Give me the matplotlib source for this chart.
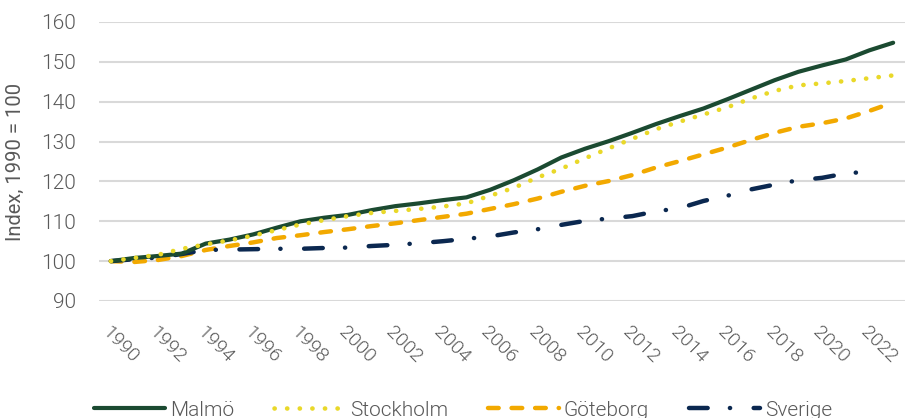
import numpy as np
import matplotlib
matplotlib.use("Agg")
import matplotlib.pyplot as plt

years = list(range(1990, 2024))

malmo = [100.0, 100.8, 101.3, 101.9, 104.4, 105.4, 106.7, 108.4, 110.0, 110.9,
         111.6, 112.8, 113.8, 114.5, 115.3, 116.0, 117.9, 120.3, 123.0, 126.0,
         128.2, 130.1, 132.2, 134.4, 136.4, 138.3, 140.6, 143.0, 145.4, 147.5,
         149.1, 150.6, 152.9, 154.8]
stockholm = [100.0, 100.8, 101.6, 103.1, 104.2, 105.2, 106.4, 107.8, 109.2, 110.3,
             111.3, 112.1, 112.6, 113.1, 113.7, 114.5, 116.4, 118.4, 121.0, 123.2,
             125.8, 128.3, 130.7, 133.1, 135.0, 136.8, 138.6, 140.8, 142.7, 144.1,
             144.6, 145.2, 145.9, 146.6]
goteborg = [100.0, 99.8, 100.3, 101.3, 102.8, 103.8, 104.7, 105.8, 106.5, 107.3,
            108.0, 108.8, 109.5, 110.3, 111.1, 111.9, 113.1, 114.3, 115.7, 117.4,
            118.9, 120.1, 121.6, 123.5, 125.1, 126.8, 128.5, 130.4, 132.2, 133.7,
            134.6, 135.8, 137.7, 139.8]
sverige = [100.0, 100.5, 100.9, 101.8, 102.8, 102.9, 103.0, 103.1, 103.1, 103.3,
           103.4, 103.8, 104.1, 104.5, 105.0, 105.6, 106.2, 107.2, 108.0, 109.1,
           110.1, 110.7, 111.3, 112.5, 113.3, 115.1, 116.4, 118.0, 119.2, 120.3,
           120.9, 122.0, 122.5, np.nan]

tick_years = years[::2][:17]
grey = "#595959"

plt.rcParams['font.family'] = ['Roboto', 'DejaVu Sans']
plt.rcParams['font.weight'] = 300

fig = plt.figure(figsize=(9.10, 4.18), dpi=100)
ax = fig.add_axes([99 / 910, 1 - 301 / 418, 806 / 910, 279 / 418])

x = np.arange(len(years))
ax.plot(x, malmo, color="#1b4a31", lw=3.0, solid_capstyle="round", label="Malmö", zorder=3)
ax.plot(x, stockholm, color="#e9d829", lw=3.3, dash_capstyle="round",
        dashes=(0.05, 2.7), label="Stockholm", zorder=4)
ax.plot(x, goteborg, color="#f2a900", lw=3.2, dash_capstyle="round",
        dashes=(2.4, 2.9), label="Göteborg", zorder=2)
ax.plot(x, sverige, color="#0b2850", lw=3.2, dash_capstyle="round",
        dashes=(4.2, 5.0, 0.05, 5.3), label="Sverige", zorder=2)

ax.set_xlim(-0.5, len(years) - 0.5)
ax.set_ylim(90, 160)
ax.set_yticks(range(90, 161, 10))
ax.yaxis.grid(True, color="#d9d9d9", lw=1.5)
ax.set_axisbelow(True)
for s in ax.spines.values():
    s.set_visible(False)
ax.tick_params(axis="both", length=0, colors=grey, labelsize=15)
ax.tick_params(axis="y", pad=16.5)

ax.set_xticks([years.index(y) for y in tick_years])
ax.set_xticklabels([str(y) for y in tick_years], rotation=-45, ha="left", va="top",
                   rotation_mode="anchor")
ax.tick_params(axis="x", pad=16, labelsize=14)

ax.set_ylabel("Index, 1990 = 100", color=grey, fontsize=14.5, labelpad=12)

fig.legend(loc="center", bbox_to_anchor=(0.509, 0.019), ncol=4, frameon=False,
           fontsize=15, handlelength=3.4, columnspacing=1.9, handletextpad=0.25,
           labelcolor=grey)

fig.savefig("out.png", dpi=100)
